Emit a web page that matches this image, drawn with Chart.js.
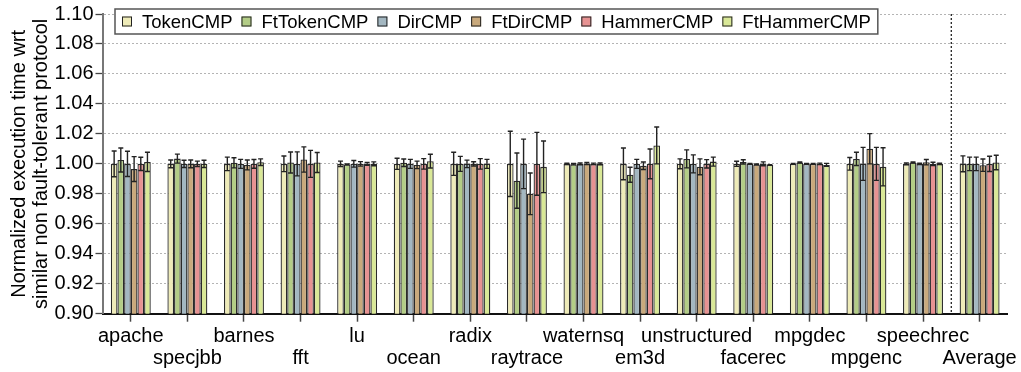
<!DOCTYPE html>
<html>
<head>
<meta charset="utf-8">
<script src="https://cdn.jsdelivr.net/npm/chart.js@4.4.0/dist/chart.umd.min.js"></script>
<style>
html, body { margin: 0; padding: 0; background: #fff; }
</style>
</head>
<body>
<canvas id="chart" width="1021" height="372"></canvas>
<script>
"use strict";

var benchmarks = ['apache', 'specjbb', 'barnes', 'fft', 'lu', 'ocean', 'radix', 'raytrace',
    'waternsq', 'em3d', 'unstructured', 'facerec', 'mpgdec', 'mpgenc', 'speechrec', 'Average'];
var protocols = ['TokenCMP', 'FtTokenCMP', 'DirCMP', 'FtDirCMP', 'HammerCMP', 'FtHammerCMP'];
var protocolColors = ['#eeebb8', '#b3cd86', '#a3b7c1', '#c9a97c', '#e79292', '#d9e897'];

// mean normalized execution time per benchmark
var tokenCMP    = [1.000, 1.000, 1.000, 1.000, 1.000, 1.000, 1.000, 1.000, 1.000, 1.000, 1.000, 1.000, 1.000, 1.000, 1.000, 1.000];
var ftTokenCMP  = [1.0026, 1.0035, 1.0007, 1.0009, 0.9996, 1.0007, 1.000, 0.9888, 0.9998, 0.9927, 1.0033, 1.0013, 1.0009, 1.0033, 1.0009, 1.000];
var dirCMP      = [1.000, 1.000, 1.000, 1.000, 1.000, 1.000, 1.000, 1.000, 1.000, 1.000, 1.000, 1.000, 1.000, 1.000, 1.000, 1.000];
var ftDirCMP    = [0.9965, 1.000, 0.9993, 1.0029, 1.000, 0.9993, 1.000, 0.980, 1.0002, 0.9987, 0.998, 0.9996, 1.000, 1.0101, 1.0011, 0.9991];
var hammerCMP   = [1.000, 1.000, 1.000, 1.000, 1.000, 1.000, 1.000, 1.000, 1.000, 1.000, 1.000, 1.000, 1.000, 1.000, 1.000, 1.000];
var ftHammerCMP = [1.0013, 1.000, 1.0011, 1.0009, 1.000, 1.0018, 1.000, 0.998, 1.000, 1.0123, 1.0015, 0.9993, 0.9993, 0.998, 1.000, 1.0009];

// half width of the error bars
var tokenErr    = [0.0086, 0.0026, 0.0045, 0.0052, 0.0018, 0.0037, 0.0077, 0.0218, 0.0004, 0.0106, 0.0033, 0.0017, 0.0003, 0.0042, 0.0006, 0.0053];
var ftTokenErr  = [0.0080, 0.0030, 0.0034, 0.0070, 0.0003, 0.0025, 0.0050, 0.0184, 0.0005, 0.0050, 0.0060, 0.0014, 0.0003, 0.0044, 0.0004, 0.0045];
var dirErr      = [0.0084, 0.0024, 0.0030, 0.0080, 0.0022, 0.0030, 0.0025, 0.0165, 0.0006, 0.0030, 0.0060, 0.0003, 0.0003, 0.0110, 0.0004, 0.0045];
var ftDirErr    = [0.0083, 0.0026, 0.0033, 0.0084, 0.0015, 0.0025, 0.0014, 0.0139, 0.0007, 0.0025, 0.0053, 0.0003, 0.0003, 0.0101, 0.0018, 0.0041];
var hammerErr   = [0.0044, 0.0018, 0.0029, 0.0090, 0.0010, 0.0035, 0.0035, 0.0210, 0.0005, 0.0099, 0.0028, 0.0013, 0.0005, 0.0110, 0.0011, 0.0051];
var ftHammerErr = [0.0064, 0.0024, 0.0022, 0.0067, 0.0013, 0.0046, 0.0030, 0.0172, 0.0006, 0.0123, 0.0030, 0.0002, 0.0010, 0.0127, 0.0004, 0.0048];

var yTicks = [0.90, 0.92, 0.94, 0.96, 0.98, 1.00, 1.02, 1.04, 1.06, 1.08, 1.10];
var yTitle = ['Normalized execution time wrt', 'similar non fault-tolerant protocol'];

var seriesValues = [tokenCMP, ftTokenCMP, dirCMP, ftDirCMP, hammerCMP, ftHammerCMP];
var seriesErrors = [tokenErr, ftTokenErr, dirErr, ftDirErr, hammerErr, ftHammerErr];

var FONT = '"Liberation Sans", Arial, Helvetica, sans-serif';
Chart.defaults.font.family = FONT;
Chart.defaults.color = '#000';

// alternate labels between two rows like the original
var xLabels = benchmarks.map(function(b, i) {
    return i % 2 === 0 ? [b] : ['', b];
});

// error bars drawn on top of the bars
var errorBars = {
    id: 'errorBars',
    afterDatasetsDraw(chart) {
        var ctx = chart.ctx;
        var y = chart.scales.y;
        ctx.save();
        ctx.strokeStyle = '#222';
        ctx.lineWidth = 1.4;
        chart.data.datasets.forEach(function(ds, i) {
            var meta = chart.getDatasetMeta(i);
            meta.data.forEach(function(bar, j) {
                var v = ds.data[j], e = ds.errors[j];
                var yTop = y.getPixelForValue(v + e);
                var yBot = y.getPixelForValue(v - e);
                ctx.beginPath();
                ctx.moveTo(bar.x, yTop); ctx.lineTo(bar.x, yBot);
                ctx.moveTo(bar.x - 2.5, yTop); ctx.lineTo(bar.x + 2.5, yTop);
                ctx.moveTo(bar.x - 2.5, yBot); ctx.lineTo(bar.x + 2.5, yBot);
                ctx.stroke();
            });
        });
        ctx.restore();
    }
};

// dotted separator before the Average group
var separator = {
    id: 'separator',
    afterDatasetsDraw(chart) {
        var x = chart.scales.x;
        var n = benchmarks.length;
        var px = (x.getPixelForValue(n - 2) + x.getPixelForValue(n - 1)) / 2;
        var ctx = chart.ctx;
        ctx.save();
        ctx.strokeStyle = '#222';
        ctx.lineWidth = 1.3;
        ctx.setLineDash([2, 2]);
        ctx.beginPath();
        ctx.moveTo(px, chart.chartArea.top);
        ctx.lineTo(px, chart.chartArea.bottom);
        ctx.stroke();
        ctx.restore();
    }
};

// boxed legend laid over the top of the plot
var boxedLegend = {
    id: 'boxedLegend',
    afterDraw(chart) {
        var ctx = chart.ctx;
        var left = 115, top = 9, h = 25;
        var pad = 7, sw = 10, swGap = 10, itemGap = 9;
        ctx.save();
        ctx.font = '18.5px ' + FONT;
        var widths = chart.data.datasets.map(function(d) { return ctx.measureText(d.label).width; });
        var total = pad * 2;
        widths.forEach(function(w, i) { total += sw + swGap + w + (i > 0 ? itemGap : 0); });
        ctx.fillStyle = '#fff';
        ctx.fillRect(left, top, total, h);
        ctx.strokeStyle = '#555';
        ctx.lineWidth = 1.5;
        ctx.strokeRect(left, top, total, h);
        var x = left + pad;
        var cy = top + h / 2;
        ctx.textBaseline = 'middle';
        chart.data.datasets.forEach(function(d, i) {
            ctx.fillStyle = d.backgroundColor;
            ctx.fillRect(x, cy - sw / 2, sw, sw);
            ctx.strokeStyle = '#222';
            ctx.lineWidth = 1;
            ctx.strokeRect(x + 0.5, cy - sw / 2 + 0.5, sw - 1, sw - 1);
            ctx.fillStyle = '#000';
            ctx.fillText(d.label, x + sw + swGap, cy + 1);
            x += sw + swGap + widths[i] + itemGap;
        });
        ctx.restore();
    }
};

var datasets = protocols.map(function(p, i) {
    return {
        label: p,
        data: seriesValues[i],
        errors: seriesErrors[i],
        backgroundColor: protocolColors[i],
        borderColor: '#2a2a2a',
        borderWidth: 1.3,
        categoryPercentage: 0.706,
        barPercentage: 1.0
    };
});

var chart = new Chart(document.getElementById('chart').getContext('2d'), {
    type: 'bar',
    data: { labels: xLabels, datasets: datasets },
    options: {
        responsive: false,
        animation: false,
        devicePixelRatio: 1,
        layout: { padding: { top: 11, right: 11, left: 0, bottom: 0 } },
        plugins: {
            legend: { display: false },
            tooltip: { enabled: false }
        },
        scales: {
            x: {
                z: 1,
                ticks: { autoSkip: false, maxRotation: 0, minRotation: 0, padding: 4,
                         font: { size: 20, lineHeight: 1.1 } },
                grid: { offset: false, drawOnChartArea: false, tickLength: 8,
                        tickColor: '#444', tickWidth: 1.5 },
                border: { color: '#111', width: 2 },
                afterFit: function(scale) { scale.height = 58.3; }
            },
            y: {
                min: 0.9,
                max: 1.1,
                afterBuildTicks: function(scale) {
                    scale.ticks = yTicks.map(function(v) { return { value: v }; });
                },
                ticks: {
                    padding: 2,
                    font: { size: 20 },
                    callback: function(v) { return Number(v).toFixed(2); }
                },
                grid: { color: '#b4b4b4', lineWidth: 1, tickLength: 7, tickColor: '#444',
                        tickWidth: 1.3, tickBorderDash: [] },
                border: { color: '#777', width: 2, dash: [2, 2] },
                title: {
                    display: true,
                    text: yTitle,
                    font: { size: 20, lineHeight: 1.1 },
                    padding: { top: 8, bottom: 0 }
                },
                afterFit: function(scale) { scale.width = 102.5; }
            }
        }
    },
    plugins: [errorBars, separator, boxedLegend]
});
</script>
</body>
</html>
